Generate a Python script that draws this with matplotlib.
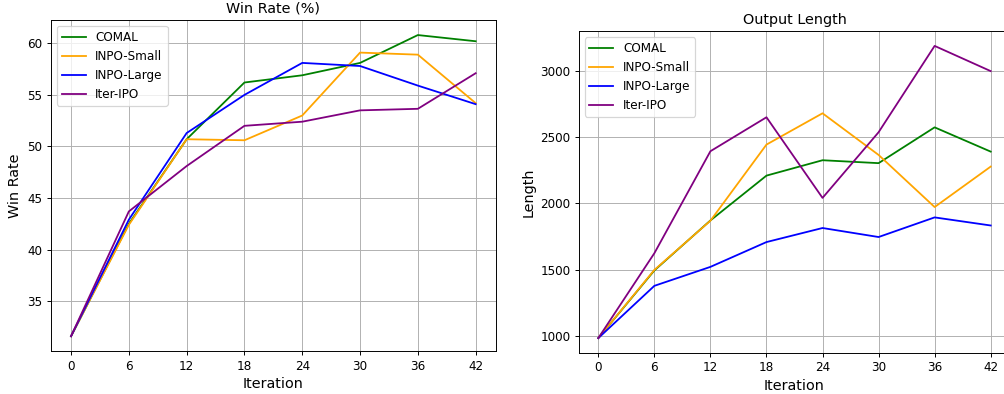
import matplotlib
matplotlib.use("Agg")
import matplotlib.pyplot as plt

iterations = [0, 6, 12, 18, 24, 30, 36, 42]
series_names = ["COMAL", "INPO-Small", "INPO-Large", "Iter-IPO"]
colors = ["green", "orange", "blue", "purple"]

win_comal = [31.6, 42.5, 50.7, 56.2, 56.9, 58.1, 60.8, 60.2]
win_inpo_small = [31.6, 42.4, 50.7, 50.6, 53.0, 59.1, 58.9, 54.2]
win_inpo_large = [31.6, 42.9, 51.3, 55.0, 58.1, 57.8, 55.9, 54.1]
win_iter_ipo = [31.6, 43.7, 48.1, 52.0, 52.4, 53.5, 53.65, 57.1]

len_comal = [985, 1495, 1872, 2210, 2326, 2304, 2574, 2391]
len_inpo_small = [985, 1499, 1870, 2444, 2680, 2366, 1973, 2278]
len_inpo_large = [985, 1379, 1522, 1709, 1815, 1747, 1895, 1834]
len_iter_ipo = [985, 1625, 2394, 2650, 2042, 2537, 3188, 2998]

win_series = [win_comal, win_inpo_small, win_inpo_large, win_iter_ipo]
len_series = [len_comal, len_inpo_small, len_inpo_large, len_iter_ipo]

DPI = 86.4
fig = plt.figure(figsize=(1005 / DPI, 394 / DPI), dpi=DPI)

ax1 = fig.add_axes([0.05055, 0.10838, 0.44288, 0.84086])
ax2 = fig.add_axes([0.57582, 0.10482, 0.42945, 0.81574])

for vals, name, c in zip(win_series, series_names, colors):
    ax1.plot(iterations, vals, color=c, label=name, linewidth=1.5)
ax1.set_title("Win Rate (%)", fontsize=12)
ax1.set_xlabel("Iteration", fontsize=12)
ax1.set_ylabel("Win Rate", fontsize=12)
ax1.set_xticks(iterations)
ax1.grid(True)
ax1.legend(loc="upper left", fontsize=10)

for vals, name, c in zip(len_series, series_names, colors):
    ax2.plot(iterations, vals, color=c, label=name, linewidth=1.5)
ax2.set_title("Output Length", fontsize=12)
ax2.set_xlabel("Iteration", fontsize=12)
ax2.set_ylabel("Length", fontsize=12)
ax2.set_xticks(iterations)
ax2.grid(True)
ax2.legend(loc="upper left", fontsize=10)

fig.savefig("out.png", dpi=DPI)
